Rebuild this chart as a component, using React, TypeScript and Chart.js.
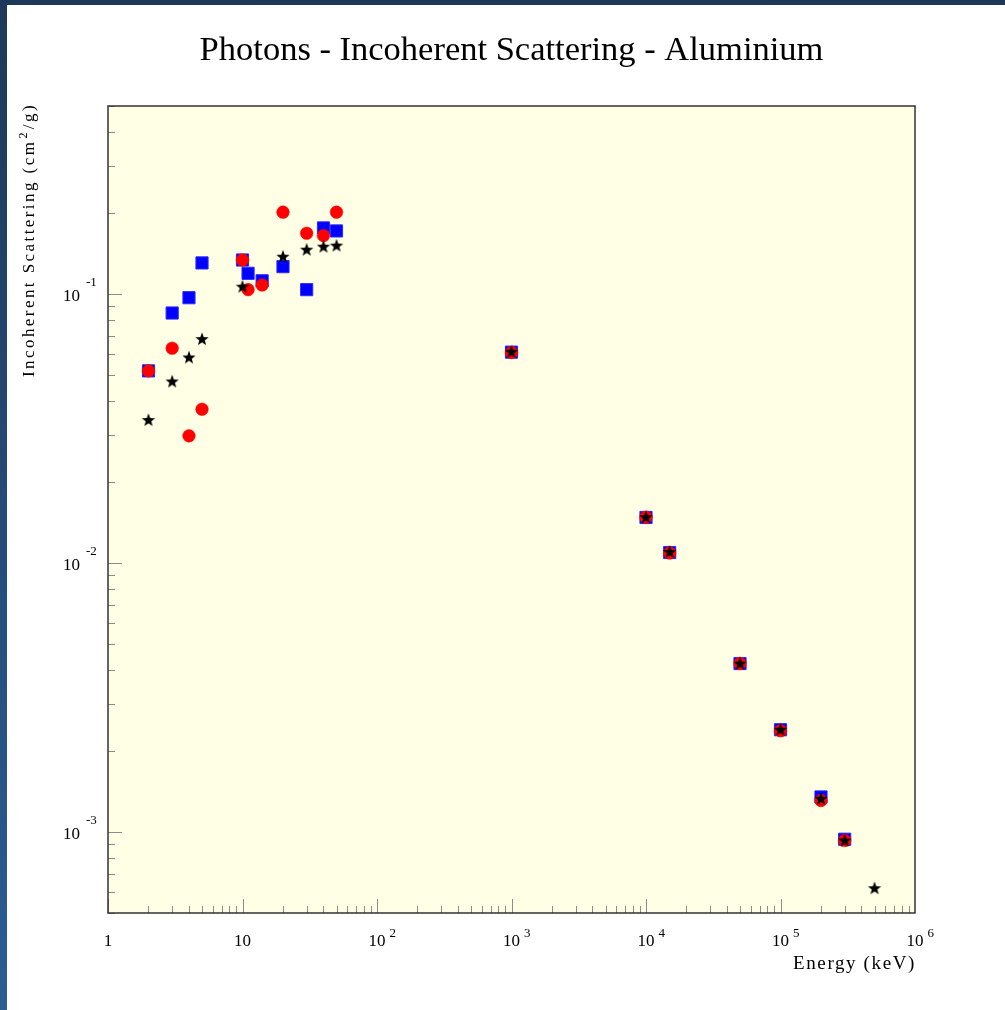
import React, { useEffect, useRef } from 'react';
import { Chart, registerables } from 'chart.js';

Chart.register(...registerables);

// ---- data (energy in keV, incoherent scattering in cm2/g) ----
const squareEnergy = [2, 3, 4, 5, 10, 11, 14, 20, 30, 40, 50, 1e3, 1e4, 1.5e4, 5e4, 1e5, 2e5, 3e5];
const squareValues = [0.0518, 0.085, 0.0969, 0.1305, 0.1338, 0.1194, 0.112, 0.1264, 0.1038, 0.1761, 0.1716, 0.0608, 0.01477, 0.01094, 0.00423, 0.0024, 0.00135, 0.00094];

const circleEnergy = [2, 3, 4, 5, 10, 11, 14, 20, 30, 40, 50, 1e3, 1e4, 1.5e4, 5e4, 1e5, 2e5, 3e5];
const circleValues = [0.0518, 0.0629, 0.0297, 0.0373, 0.1338, 0.1038, 0.108, 0.2015, 0.1683, 0.1649, 0.2015, 0.0606, 0.0148, 0.0109, 0.00423, 0.00238, 0.00131, 0.00093];

const starEnergy = [2, 3, 4, 5, 10, 20, 30, 40, 50, 1e3, 1e4, 1.5e4, 5e4, 1e5, 2e5, 3e5, 5e5];
const starValues = [0.034, 0.0473, 0.0581, 0.068, 0.1065, 0.1377, 0.1462, 0.15, 0.1514, 0.061, 0.0148, 0.011, 0.00423, 0.0024, 0.00133, 0.00093, 0.000618];

// ---- tick labels ----
const xTickValues = [1, 10, 1e2, 1e3, 1e4, 1e5, 1e6];
const xTickBase = ['1', '10', '10', '10', '10', '10', '10'];
const xTickExp = ['', '', '2', '3', '4', '5', '6'];
const yTickValues = [1e-1, 1e-2, 1e-3];
const yTickBase = ['10', '10', '10'];
const yTickExp = ['-1', '-2', '-3'];

const TITLE = 'Photons - Incoherent Scattering - Aluminium';
const X_TITLE = 'Energy (keV)';
const Y_TITLE_MAIN = 'Incoherent Scattering (cm';
const Y_TITLE_SUP = '2';
const Y_TITLE_END = '/g)';

const SERIF = '"Liberation Serif", "Times New Roman", serif';

function makeStar(): HTMLCanvasElement {
  const c = document.createElement('canvas');
  c.width = 16;
  c.height = 16;
  const g = c.getContext('2d')!;
  const cx = 8, cy = 8.3, R = 7, r = 2.9;
  g.beginPath();
  for (let i = 0; i < 10; i++) {
    const ang = -Math.PI / 2 + (i * Math.PI) / 5;
    const rad = i % 2 === 0 ? R : r;
    const px = cx + rad * Math.cos(ang);
    const py = cy + rad * Math.sin(ang);
    if (i === 0) g.moveTo(px, py);
    else g.lineTo(px, py);
  }
  g.closePath();
  g.fillStyle = '#000';
  g.fill();
  return c;
}

function setSpacing(ctx: CanvasRenderingContext2D, px: number) {
  (ctx as any).letterSpacing = px.toFixed(2) + 'px';
}

const decor = {
  id: 'decor',
  beforeDraw(chart: any) {
    const { ctx, chartArea: a } = chart;
    ctx.save();
    ctx.fillStyle = '#ffffe6';
    ctx.fillRect(a.left, a.top, a.right - a.left, a.bottom - a.top);
    ctx.restore();
  },
  beforeDatasetsDraw(chart: any) {
    const { ctx, chartArea: a, scales } = chart;
    const x = scales.x, y = scales.y;
    ctx.save();
    ctx.strokeStyle = '#8c8c8c';
    ctx.lineWidth = 1;
    for (let e = 0; e < 6; e++) {
      for (let m = 1; m <= 9; m++) {
        const v = m * Math.pow(10, e);
        const px = Math.round(x.getPixelForValue(v)) + 0.5;
        const len = m === 1 ? 14 : 7;
        ctx.beginPath();
        ctx.moveTo(px, a.bottom);
        ctx.lineTo(px, a.bottom - len);
        ctx.stroke();
      }
    }
    for (let e = -4; e < 0; e++) {
      for (let m = 1; m <= 9; m++) {
        const v = m * Math.pow(10, e);
        if (v < y.min || v > y.max) continue;
        const py = Math.round(y.getPixelForValue(v)) + 0.5;
        const len = m === 1 ? 14 : 7;
        ctx.beginPath();
        ctx.moveTo(a.left, py);
        ctx.lineTo(a.left + len, py);
        ctx.stroke();
      }
    }
    ctx.restore();
  },
  afterDraw(chart: any) {
    const { ctx, chartArea: a, scales } = chart;
    const x = scales.x, y = scales.y;
    ctx.save();
    // frame
    ctx.strokeStyle = '#333';
    ctx.lineWidth = 1.5;
    ctx.strokeRect(a.left, a.top, a.right - a.left, a.bottom - a.top);

    ctx.fillStyle = '#000';
    ctx.textBaseline = 'alphabetic';
    // x tick labels
    xTickValues.forEach((v, i) => {
      const px = x.getPixelForValue(v);
      ctx.font = '17px ' + SERIF;
      ctx.textAlign = 'left';
      const w = ctx.measureText(xTickBase[i]).width;
      ctx.fillText(xTickBase[i], px - w / 2, a.bottom + 33);
      if (xTickExp[i]) {
        ctx.font = '13px ' + SERIF;
        ctx.fillText(xTickExp[i], px + w / 2 + 4, a.bottom + 24);
      }
    });
    // y tick labels
    yTickValues.forEach((v, i) => {
      const py = y.getPixelForValue(v);
      ctx.font = '17px ' + SERIF;
      ctx.textAlign = 'right';
      ctx.fillText(yTickBase[i], a.left - 28, py + 7);
      ctx.font = '13px ' + SERIF;
      ctx.textAlign = 'left';
      ctx.fillText(yTickExp[i], a.left - 22, py - 8);
    });
    // x title
    ctx.font = '19px ' + SERIF;
    setSpacing(ctx, 0);
    const xw = ctx.measureText(X_TITLE).width;
    setSpacing(ctx, (123 - xw) / X_TITLE.length);
    ctx.textAlign = 'right';
    ctx.fillText(X_TITLE, a.right + 1, a.bottom + 56);

    // y title (rotated, with a raised superscript)
    ctx.save();
    ctx.translate(33.5, 377);
    ctx.rotate(-Math.PI / 2);
    ctx.textAlign = 'left';
    const mainFont = '17px ' + SERIF;
    const supFont = '12px ' + SERIF;
    setSpacing(ctx, 0);
    ctx.font = mainFont;
    const w1 = ctx.measureText(Y_TITLE_MAIN).width;
    const w3 = ctx.measureText(Y_TITLE_END).width;
    ctx.font = supFont;
    const w2 = ctx.measureText(Y_TITLE_SUP).width;
    const nChars = Y_TITLE_MAIN.length + Y_TITLE_SUP.length + Y_TITLE_END.length;
    const sp = (272 - (w1 + w2 + w3)) / nChars;
    setSpacing(ctx, sp);
    ctx.font = mainFont;
    ctx.fillText(Y_TITLE_MAIN, 0, 0);
    const p1 = w1 + sp * Y_TITLE_MAIN.length;
    ctx.font = supFont;
    ctx.fillText(Y_TITLE_SUP, p1 + 1, -7);
    const p2 = p1 + w2 + sp + 2;
    ctx.font = mainFont;
    ctx.fillText(Y_TITLE_END, p2, 0);
    ctx.restore();
    setSpacing(ctx, 0);
    ctx.restore();
  },
};

export default function App() {
  const ref = useRef<HTMLCanvasElement | null>(null);
  useEffect(() => {
    const canvas = ref.current;
    if (!canvas) return;
    const star = makeStar();
    const chart = new Chart(canvas, {
      type: 'scatter',
      data: {
        datasets: [
          {
            label: 'stars',
            data: starEnergy.map((e, i) => ({ x: e, y: starValues[i] })),
            pointStyle: star as any,
            pointRadius: 7,
            backgroundColor: '#000',
            borderColor: '#000',
          },
          {
            label: 'circles',
            data: circleEnergy.map((e, i) => ({ x: e, y: circleValues[i] })),
            pointStyle: 'circle',
            pointRadius: 6.3,
            borderWidth: 0.5,
            backgroundColor: '#ff0000',
            borderColor: '#ff0000',
          },
          {
            label: 'squares',
            data: squareEnergy.map((e, i) => ({ x: e, y: squareValues[i] })),
            pointStyle: 'rect',
            pointRadius: 8.6,
            borderWidth: 1,
            backgroundColor: '#0000ff',
            borderColor: '#2a2aff',
          },
        ],
      },
      options: {
        animation: false,
        responsive: false,
        maintainAspectRatio: false,
        devicePixelRatio: 1,
        layout: { padding: { left: 0, right: 90, top: 0, bottom: 0 } },
        plugins: {
          legend: { display: false },
          tooltip: { enabled: false },
          title: {
            display: true,
            text: TITLE,
            color: '#000',
            fullSize: false,
            font: { family: SERIF, size: 34.5, weight: 'normal', lineHeight: 1.2 },
            padding: { top: 30, bottom: 34.6 },
          },
        },
        scales: {
          x: {
            type: 'logarithmic',
            min: 1,
            max: 1e6,
            ticks: { display: false },
            grid: { display: false, drawTicks: false },
            border: { display: false },
            afterFit: (s: any) => {
              s.height = 97;
            },
          },
          y: {
            type: 'logarithmic',
            min: 5e-4,
            max: 0.5,
            ticks: { display: false },
            grid: { display: false, drawTicks: false },
            border: { display: false },
            afterFit: (s: any) => {
              s.width = 108;
            },
          },
        },
      } as any,
      plugins: [decor as any],
    });
    return () => chart.destroy();
  }, []);

  return (
    <div
      style={{
        position: 'absolute',
        left: 0,
        top: 0,
        width: 1005,
        height: 1010,
        background: 'linear-gradient(to bottom, #1d3859, #2c5d93)',
        overflow: 'hidden',
      }}
    >
      <div style={{ position: 'absolute', left: 7, top: 5, right: 0, bottom: 0, background: '#fff' }} />
      <canvas
        ref={ref}
        width={1005}
        height={1010}
        style={{ position: 'absolute', left: 0, top: 0, width: 1005, height: 1010 }}
      />
    </div>
  );
}
